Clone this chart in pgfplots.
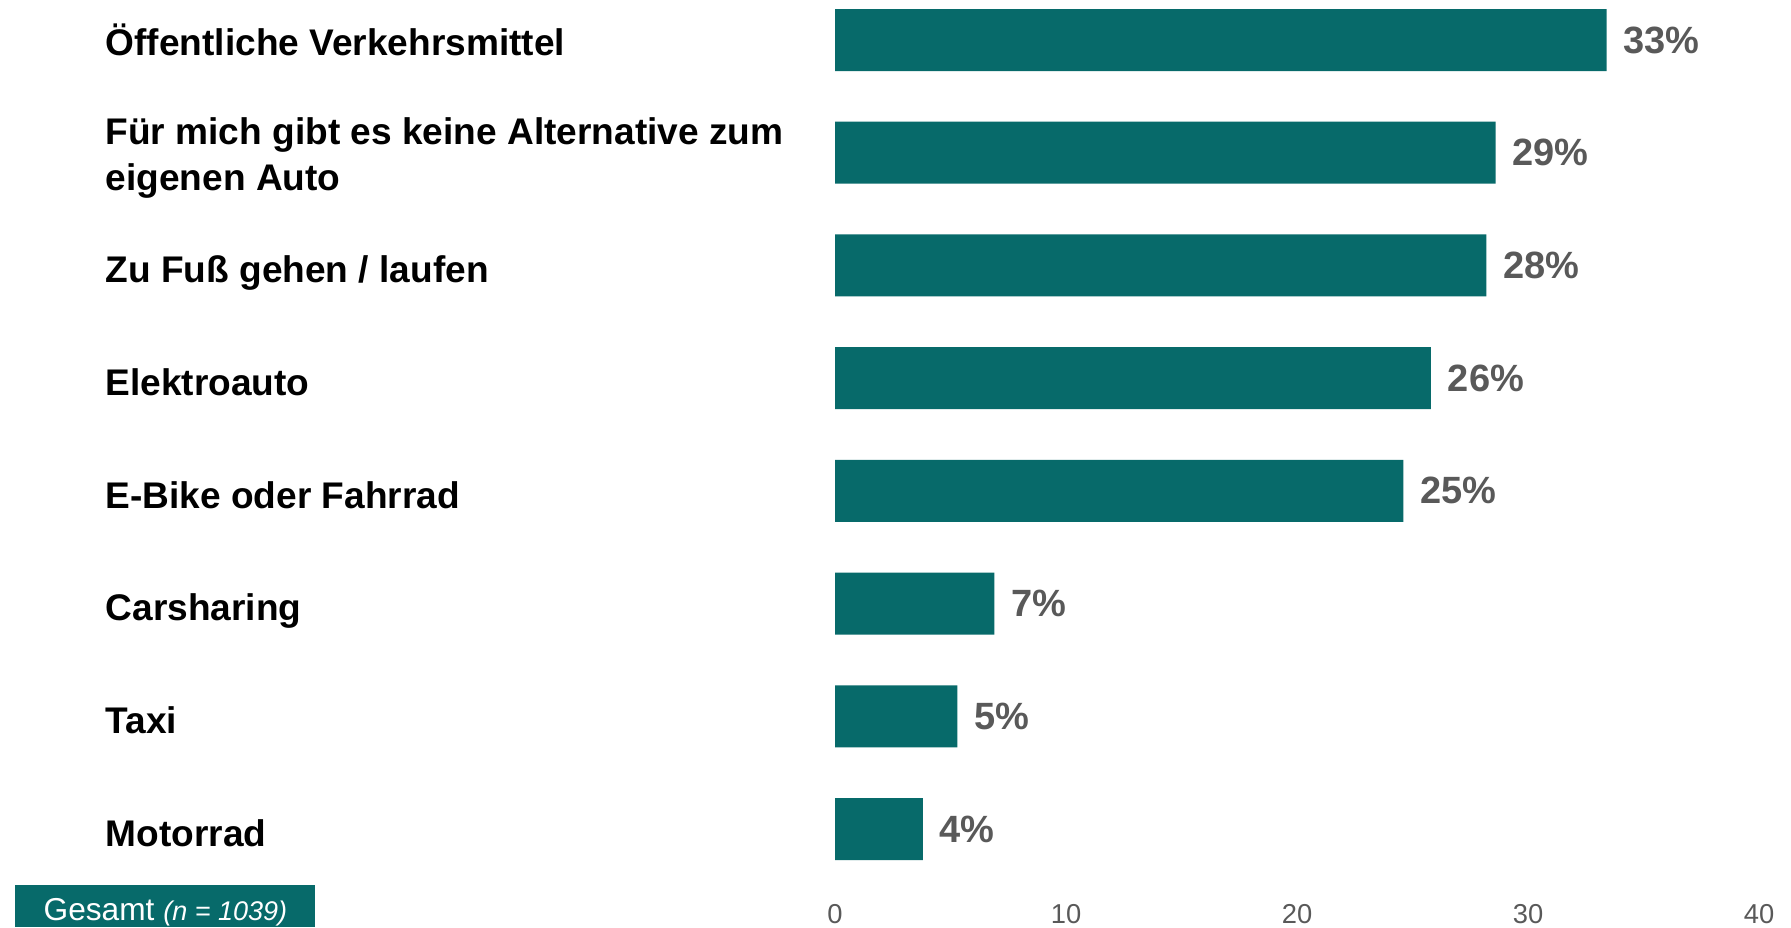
\documentclass[border=0pt]{standalone}
\usepackage{pgfplots}
\pgfplotsset{compat=1.18}
\usepackage{fontspec}
\setmainfont{Liberation Sans}

\definecolor{barteal}{RGB}{7,106,106}
\definecolor{valgray}{RGB}{89,89,89}

% fixed struts so every label sits the same way relative to its bar
\newcommand{\lstrut}{\rule[-3pt]{0pt}{16.4pt}}
\newcommand{\hstrut}{\rule[-3pt]{0pt}{15pt}}
\newcommand{\topstrut}{\rule{0pt}{12pt}}
\newcommand{\botstrut}{\rule[-3pt]{0pt}{3pt}}

\pgfplotstableread[col sep=comma]{
y,x,lab
7,33.4,33\%
6,28.6,29\%
5,28.2,28\%
4,25.8,26\%
3,24.6,25\%
2,6.9,7\%
1,5.3,5\%
0,3.8,4\%
}\datatab

\begin{document}
\begin{tikzpicture}
\useasboundingbox (0,0) rectangle (537.3pt,278.1pt);

\begin{axis}[
    at={(250.5pt,12.48pt)},
    anchor=south west,
    scale only axis,
    width=277.2pt,
    height=265.62pt,
    xbar,
    bar width=18.6pt,
    xmin=0, xmax=40,
    ymin=-0.5, ymax=7.355,
    enlargelimits=false,
    axis line style={draw=none},
    tick style={draw=none},
    major tick length=0pt,
    xtick={0,10,20,30,40},
    xticklabel style={font=\fontsize{8.2}{10}\selectfont, text=valgray, inner sep=0pt, anchor=north, yshift=-5.6pt},
    /pgf/number format/assume math mode=true,
    ytick={0,1,2,3,4,5,6,7},
    yticklabels={
      \lstrut Motorrad,
      \lstrut Taxi,
      \lstrut Carsharing,
      \lstrut E-Bike oder Fahrrad,
      \lstrut Elektroauto,
      \lstrut Zu Fuß gehen / laufen,
      {\topstrut Für mich gibt es keine Alternative zum\\\botstrut eigenen Auto},
      \hstrut Öffentliche Verkehrsmittel
    },
    yticklabel style={anchor=west, align=left, inner sep=0pt, xshift=-219pt,
      font=\bfseries\fontsize{11.12}{13.8}\selectfont},
    point meta=explicit symbolic,
    nodes near coords,
    nodes near coords style={anchor=west, inner sep=0pt, xshift=4.9pt,
      font=\bfseries\fontsize{11.4}{13}\selectfont, text=valgray},
]
  \addplot [fill=barteal, draw=none] table [x=x, y=y, meta=lab] {\datatab};
\end{axis}

% sample size box in the lower left corner
\fill[barteal] (4.5pt,0) rectangle (94.5pt,12.6pt);
\node[anchor=west, inner sep=0pt, text=white] at (12.9pt,4.3pt)
  {\fontsize{9.5}{11}\selectfont Gesamt \fontsize{8.1}{9}\selectfont\itshape(n = 1039)};
\end{tikzpicture}
\end{document}
